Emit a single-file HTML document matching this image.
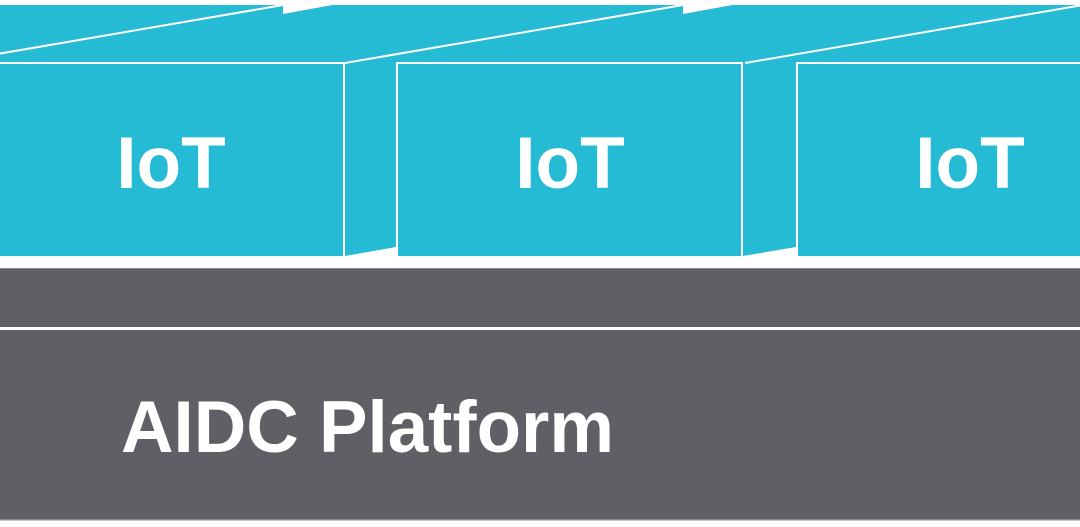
<!DOCTYPE html>
<html><head><meta charset="utf-8"><style>
html,body{margin:0;padding:0;background:#fff;}
svg{display:block;}
text{font-family:"Liberation Sans",Arial,sans-serif;font-weight:bold;fill:#fff;}
</style></head><body>
<svg width="1080" height="527" viewBox="0 0 1080 527" xmlns="http://www.w3.org/2000/svg">
<rect x="0" y="0" width="1080" height="527" fill="#fff"/>
<rect x="0" y="5" width="1080" height="251" fill="#26BBD5"/>
<polygon points="283,4 283,14 338,4" fill="#fff"/>
<polygon points="683,4 683,14 738,4" fill="#fff"/>
<g stroke="#fff" stroke-width="2" fill="none">
<line x1="-55" y1="63" x2="283" y2="5"/>
<line x1="345" y1="63" x2="683" y2="5"/>
<line x1="745" y1="63" x2="1083" y2="5"/>
<polyline points="-2,63 344,63 344,256"/>
<rect x="397" y="63" width="345" height="194"/>
<polyline points="797,257 797,63 1082,63"/>
</g>
<polygon points="345,257 396,257 396,247 345,256" fill="#fff"/>
<polygon points="743,257 796,257 796,247 743,256" fill="#fff"/>
<rect x="0" y="256" width="1080" height="12" fill="#fff"/>
<rect x="0" y="268" width="1080" height="252" fill="#5F6065"/>
<rect x="0" y="268" width="1080" height="1" fill="#8c8d91"/>
<rect x="0" y="327" width="1080" height="3" fill="#fff"/>
<rect x="0" y="519" width="1080" height="1.5" fill="#8c8d91"/>
<text x="171" y="188" font-size="73" text-anchor="middle">IoT</text>
<text x="570" y="188" font-size="73" text-anchor="middle">IoT</text>
<text x="970" y="188" font-size="73" text-anchor="middle">IoT</text>
<text x="121" y="452" font-size="73" textLength="493" lengthAdjust="spacingAndGlyphs">AIDC Platform</text>
</svg>
</body></html>
